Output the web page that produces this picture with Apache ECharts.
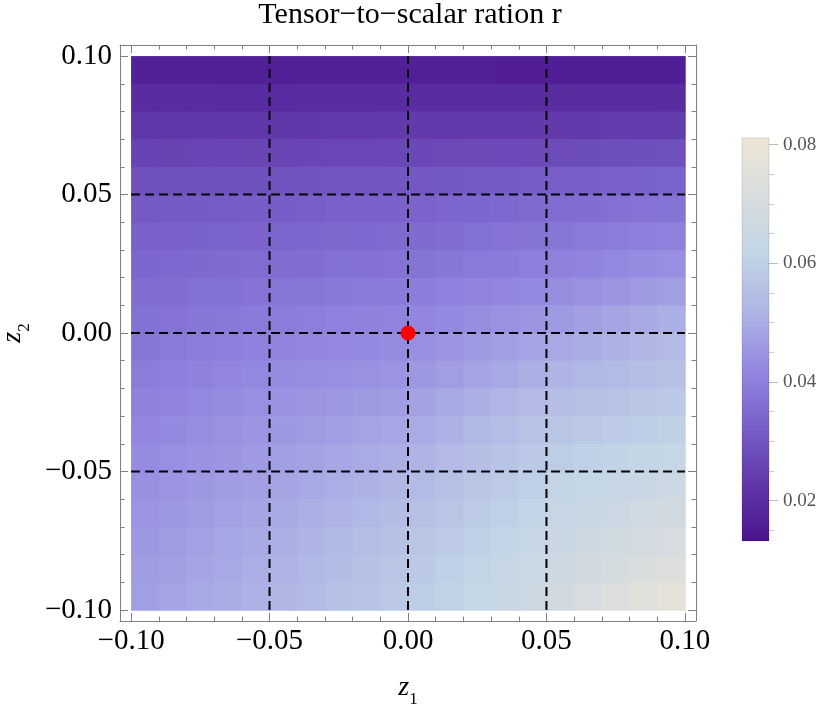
<!DOCTYPE html>
<html><head><meta charset="utf-8">
<script src="https://cdn.jsdelivr.net/npm/echarts@6/dist/echarts.min.js"></script>
<style>html,body{margin:0;padding:0;background:#fff}#c{width:831px;height:707px}</style>
</head><body><div id="c"></div>
<script>
// cell centres (z1 left->right, z2 top->bottom)
const z1Values = [-0.095,-0.085,-0.075,-0.065,-0.055,-0.045,-0.035,-0.025,-0.015,-0.005,0.005,0.015,0.025,0.035,0.045,0.055,0.065,0.075,0.085,0.095];
const z2Values = [0.095,0.085,0.075,0.065,0.055,0.045,0.035,0.025,0.015,0.005,-0.005,-0.015,-0.025,-0.035,-0.045,-0.055,-0.065,-0.075,-0.085,-0.095];
// tensor-to-scalar ratio r, one row per z2 value (top row first)
const rRows = [
[0.0166,0.0166,0.0165,0.0165,0.0165,0.0164,0.0164,0.0164,0.0163,0.0163,0.0163,0.0162,0.0162,0.0161,0.0161,0.0160,0.0160,0.0160,0.0159,0.0159],
[0.0198,0.0198,0.0198,0.0197,0.0197,0.0197,0.0198,0.0198,0.0199,0.0199,0.0199,0.0199,0.0198,0.0198,0.0198,0.0198,0.0198,0.0199,0.0199,0.0199],
[0.0230,0.0230,0.0230,0.0230,0.0230,0.0231,0.0232,0.0233,0.0234,0.0235,0.0235,0.0235,0.0235,0.0235,0.0235,0.0236,0.0237,0.0238,0.0239,0.0240],
[0.0258,0.0259,0.0260,0.0261,0.0262,0.0263,0.0264,0.0266,0.0267,0.0268,0.0270,0.0271,0.0273,0.0275,0.0276,0.0278,0.0280,0.0283,0.0285,0.0287],
[0.0287,0.0288,0.0290,0.0292,0.0293,0.0295,0.0297,0.0299,0.0300,0.0302,0.0305,0.0308,0.0311,0.0314,0.0317,0.0321,0.0324,0.0328,0.0331,0.0334],
[0.0309,0.0311,0.0314,0.0316,0.0318,0.0320,0.0322,0.0325,0.0327,0.0329,0.0332,0.0337,0.0341,0.0345,0.0350,0.0354,0.0359,0.0364,0.0369,0.0374],
[0.0325,0.0328,0.0331,0.0333,0.0336,0.0338,0.0341,0.0344,0.0346,0.0349,0.0353,0.0358,0.0363,0.0368,0.0373,0.0379,0.0386,0.0392,0.0398,0.0405],
[0.0342,0.0345,0.0348,0.0351,0.0354,0.0357,0.0360,0.0363,0.0366,0.0369,0.0373,0.0379,0.0385,0.0391,0.0397,0.0404,0.0412,0.0420,0.0428,0.0436],
[0.0354,0.0358,0.0363,0.0367,0.0371,0.0375,0.0378,0.0382,0.0385,0.0388,0.0394,0.0401,0.0409,0.0417,0.0424,0.0433,0.0442,0.0452,0.0462,0.0471],
[0.0367,0.0372,0.0378,0.0383,0.0388,0.0393,0.0397,0.0401,0.0404,0.0408,0.0415,0.0424,0.0433,0.0442,0.0451,0.0462,0.0473,0.0484,0.0495,0.0506],
[0.0379,0.0386,0.0392,0.0398,0.0405,0.0410,0.0415,0.0419,0.0423,0.0428,0.0435,0.0446,0.0457,0.0468,0.0479,0.0490,0.0501,0.0512,0.0523,0.0534],
[0.0392,0.0399,0.0406,0.0413,0.0420,0.0427,0.0432,0.0437,0.0442,0.0447,0.0456,0.0469,0.0481,0.0493,0.0506,0.0517,0.0526,0.0536,0.0546,0.0555],
[0.0404,0.0412,0.0420,0.0428,0.0436,0.0443,0.0449,0.0455,0.0461,0.0467,0.0477,0.0491,0.0505,0.0519,0.0533,0.0544,0.0552,0.0560,0.0568,0.0576],
[0.0416,0.0424,0.0432,0.0440,0.0448,0.0456,0.0463,0.0471,0.0479,0.0486,0.0497,0.0512,0.0527,0.0542,0.0557,0.0568,0.0577,0.0586,0.0595,0.0604],
[0.0428,0.0436,0.0444,0.0452,0.0460,0.0469,0.0478,0.0487,0.0496,0.0505,0.0518,0.0533,0.0549,0.0565,0.0580,0.0593,0.0602,0.0612,0.0622,0.0631],
[0.0438,0.0447,0.0455,0.0463,0.0472,0.0481,0.0492,0.0502,0.0512,0.0523,0.0536,0.0552,0.0568,0.0584,0.0600,0.0613,0.0624,0.0635,0.0646,0.0657],
[0.0447,0.0456,0.0465,0.0474,0.0483,0.0494,0.0505,0.0516,0.0527,0.0538,0.0552,0.0568,0.0584,0.0600,0.0616,0.0630,0.0643,0.0655,0.0667,0.0680],
[0.0455,0.0465,0.0475,0.0485,0.0495,0.0506,0.0518,0.0530,0.0542,0.0554,0.0568,0.0584,0.0600,0.0616,0.0632,0.0647,0.0661,0.0675,0.0689,0.0703],
[0.0463,0.0473,0.0483,0.0493,0.0503,0.0514,0.0527,0.0540,0.0553,0.0566,0.0580,0.0597,0.0614,0.0631,0.0648,0.0665,0.0683,0.0701,0.0719,0.0737],
[0.0471,0.0481,0.0491,0.0501,0.0511,0.0523,0.0536,0.0550,0.0564,0.0577,0.0593,0.0610,0.0628,0.0646,0.0663,0.0683,0.0705,0.0727,0.0749,0.0771]
];
const dataExtent = [-0.1, 0.1];
const majorTicks = [-0.1, -0.05, 0, 0.05, 0.1];
const minorTicks = [-0.09,-0.08,-0.07,-0.06,-0.04,-0.03,-0.02,-0.01,0.01,0.02,0.03,0.04,0.06,0.07,0.08,0.09];
const gridValues = [-0.05, 0, 0.05];
const markerPoint = [0, 0];
const colorbarMajor = [0.02, 0.04, 0.06, 0.08];
const colorbarMinor = [0.015,0.025,0.03,0.035,0.045,0.05,0.055,0.065,0.07,0.075];
const rMin = 0.0132, rMax = 0.0811;
const palette = ['#4a148e','#6037a9','#7960ca','#9489e1','#afb6e5','#c3d5e6','#d8ddde','#eee6d6'];

const heatData = [];
z2Values.forEach((z2, j) => z1Values.forEach((z1, k) => heatData.push([z1, z2, rRows[j][k]])));
const half = (z1Values[1] - z1Values[0]) / 2;

const pad = 0.004;
const frameColor = '#808080';
const serif = 'Liberation Serif';
function fmt(v) { return (v < 0 ? '\u2212' : '') + Math.abs(v).toFixed(2); }

function mkAxis(pos, ticks, len, withLine, withLabels, margin, extra) {
  return Object.assign({
    type: 'value', gridIndex: 0, position: pos,
    min: dataExtent[0] - pad, max: dataExtent[1] + pad,
    axisLine: { show: withLine, onZero: false, lineStyle: { color: frameColor, width: 1 } },
    axisTick: { show: true, inside: true, length: len, customValues: ticks, lineStyle: { color: frameColor, width: 1 } },
    axisLabel: withLabels ? { show: true, customValues: majorTicks, formatter: fmt, fontFamily: serif, fontSize: 29, color: '#000', margin: margin } : { show: false },
    splitLine: { show: false }
  }, extra || {});
}
const nameRich = {
  z: { fontFamily: serif, fontStyle: 'italic', fontSize: 28, color: '#000', padding: [0, 0, 6, 0] },
  s: { fontFamily: serif, fontSize: 17, color: '#000', verticalAlign: 'bottom' }
};

const xAxes = [
  mkAxis('bottom', majorTicks, 8, true, true, 6, { name: '{z|z}{s|1}', nameLocation: 'middle', nameGap: 53, nameTextStyle: { rich: nameRich } }),
  mkAxis('bottom', minorTicks, 4.5, false, false, 0),
  mkAxis('top', majorTicks, 8, true, false, 0),
  mkAxis('top', minorTicks, 4.5, false, false, 0),
  { type: 'value', gridIndex: 1, min: 0, max: 1, show: false }
];
const yAxes = [
  mkAxis('left', majorTicks, 8, true, true, 8, { name: '{z|z}{s|2}', nameLocation: 'middle', nameRotate: 90, nameGap: 87, nameTextStyle: { rich: nameRich } }),
  mkAxis('left', minorTicks, 4.5, false, false, 0),
  mkAxis('right', majorTicks, 8, true, false, 0),
  mkAxis('right', minorTicks, 4.5, false, false, 0),
  { type: 'value', gridIndex: 1, position: 'right', min: rMin, max: rMax,
    axisLine: { show: false, onZero: false },
    axisTick: { show: true, inside: false, length: 9, customValues: colorbarMajor, lineStyle: { color: '#bbbbbb' } },
    axisLabel: { show: true, customValues: colorbarMajor, formatter: v => v.toFixed(2), fontFamily: serif, fontSize: 19, color: '#555', margin: 14 },
    splitLine: { show: false } },
  { type: 'value', gridIndex: 1, position: 'right', min: rMin, max: rMax,
    axisLine: { show: false, onZero: false },
    axisTick: { show: true, inside: false, length: 5, customValues: colorbarMinor, lineStyle: { color: '#cccccc' } },
    axisLabel: { show: false }, splitLine: { show: false } }
];

const series = [];
series.push({
  type: 'custom', xAxisIndex: 0, yAxisIndex: 0, z: 1, silent: true,
  data: heatData, encode: { x: 0, y: 1 },
  renderItem: function (params, api) {
    const x = api.value(0), y = api.value(1);
    const p0 = api.coord([x - half, y + half]);
    const p1 = api.coord([x + half, y - half]);
    return { type: 'rect', shape: { x: p0[0], y: p0[1], width: p1[0] - p0[0] + 0.8, height: p1[1] - p0[1] + 0.8 },
      style: { fill: api.visual('color'), stroke: null } };
  }
});
gridValues.forEach(v => {
  series.push({ type: 'line', xAxisIndex: 0, yAxisIndex: 0, z: 3, silent: true, showSymbol: false, symbol: 'none',
    data: [[v, dataExtent[0]], [v, dataExtent[1]]], lineStyle: { color: '#000', width: 2, type: [9, 5] } });
  series.push({ type: 'line', xAxisIndex: 0, yAxisIndex: 0, z: 3, silent: true, showSymbol: false, symbol: 'none',
    data: [[dataExtent[0], v], [dataExtent[1], v]], lineStyle: { color: '#000', width: 2, type: [9, 5] } });
});
series.push({ type: 'scatter', xAxisIndex: 0, yAxisIndex: 0, z: 5, data: [markerPoint], symbolSize: 15,
  itemStyle: { color: '#ff0000', opacity: 1 } });
series.push({
  type: 'custom', xAxisIndex: 4, yAxisIndex: 4, silent: true,
  data: [[0, rMin, 1, rMax]],
  renderItem: function (params, api) {
    const a = api.coord([api.value(0), api.value(1)]);
    const b = api.coord([api.value(2), api.value(3)]);
    return { type: 'rect', shape: { x: a[0], y: b[1], width: b[0] - a[0], height: a[1] - b[1] },
      style: { fill: new echarts.graphic.LinearGradient(0, 1, 0, 0, palette.map((c, i) => ({ offset: i / (palette.length - 1), color: c }))),
        stroke: 'rgba(0,0,0,0.12)', lineWidth: 1 } };
  }
});

const chart = echarts.init(document.getElementById('c'), null, { renderer: 'canvas' });
chart.setOption({
  animation: false,
  backgroundColor: '#ffffff',
  title: { text: 'Tensor\u2212to\u2212scalar ration r', left: 410, textAlign: 'center', top: 0, padding: 0,
    textStyle: { fontFamily: serif, fontSize: 30, fontWeight: 'normal', color: '#000' } },
  grid: [
    { left: 120, top: 45, width: 576, height: 576, outerBoundsMode: 'none', containLabel: false },
    { left: 742, top: 138, width: 27, height: 403, outerBoundsMode: 'none', containLabel: false }
  ],
  xAxis: xAxes,
  yAxis: yAxes,
  visualMap: { type: 'continuous', show: false, min: rMin, max: rMax, dimension: 2, seriesIndex: 0, inRange: { color: palette } },
  series: series
});
</script></body></html>
